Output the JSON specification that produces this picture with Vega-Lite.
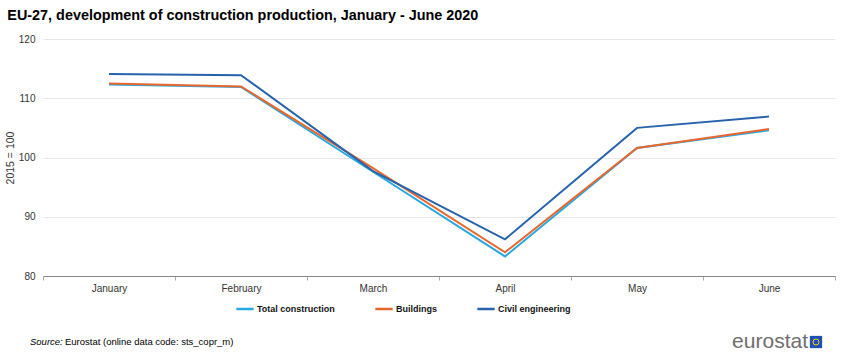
{
  "$schema": "https://vega.github.io/schema/vega-lite/v6.json",
  "background": "white",
  "padding": {"left": 5, "top": 7, "right": 5, "bottom": 5},
  "title": {"text": "EU-27, development of construction production, January - June 2020", "anchor": "start", "fontSize": 14.4, "fontWeight": "bold", "font": "Liberation Sans", "color": "#000000", "offset": 11, "dx": 2},
  "config": {
    "font": "Liberation Sans",
    "view": {"stroke": null},
    "concat": {"spacing": 17}
  },
  "resolve": {"scale": {"x": "independent", "color": "independent"}, "legend": {"color": "independent"}},
  "vconcat": [
    {
      "width": 792,
      "height": 237,
      "data": {"values": [
        {"month": "January", "series": "Total construction", "value": 112.3},
        {"month": "February", "series": "Total construction", "value": 111.9},
        {"month": "March", "series": "Total construction", "value": 97.6},
        {"month": "April", "series": "Total construction", "value": 83.3},
        {"month": "May", "series": "Total construction", "value": 101.6},
        {"month": "June", "series": "Total construction", "value": 104.6},
        {"month": "January", "series": "Buildings", "value": 112.5},
        {"month": "February", "series": "Buildings", "value": 112.0},
        {"month": "March", "series": "Buildings", "value": 98.2},
        {"month": "April", "series": "Buildings", "value": 84.0},
        {"month": "May", "series": "Buildings", "value": 101.6},
        {"month": "June", "series": "Buildings", "value": 104.8},
        {"month": "January", "series": "Civil engineering", "value": 114.1},
        {"month": "February", "series": "Civil engineering", "value": 113.9},
        {"month": "March", "series": "Civil engineering", "value": 97.7},
        {"month": "April", "series": "Civil engineering", "value": 86.2},
        {"month": "May", "series": "Civil engineering", "value": 105.0},
        {"month": "June", "series": "Civil engineering", "value": 106.9}
      ]},
      "mark": {"type": "line", "strokeWidth": 2},
      "encoding": {
        "x": {"field": "month", "type": "ordinal", "sort": ["January", "February", "March", "April", "May", "June"],
          "axis": {"title": null, "labelAngle": 0, "labelFontSize": 10, "labelColor": "#333333", "domainColor": "#888888", "tickColor": "#aaaaaa", "tickBand": "extent", "tickSize": 4, "labelPadding": 3, "grid": false}},
        "y": {"field": "value", "type": "quantitative", "scale": {"domain": [80, 120], "nice": false, "zero": false},
          "axis": {"title": "2015 = 100", "titleFontSize": 10.5, "titleFontWeight": "normal", "titleColor": "#333333", "titlePadding": 3, "values": [80, 90, 100, 110, 120], "labelFontSize": 10, "labelColor": "#333333", "ticks": false, "domain": false, "labelPadding": 8, "gridColor": "#e6e6e6"}},
        "color": {"field": "series", "type": "nominal", "sort": ["Total construction", "Buildings", "Civil engineering"],
          "scale": {"domain": ["Total construction", "Buildings", "Civil engineering"], "range": ["#28a8e0", "#e8672f", "#2763ac"]},
          "legend": {"title": null, "orient": "none", "legendX": 192, "legendY": 260, "direction": "horizontal", "symbolType": "stroke", "symbolStrokeWidth": 2.5, "symbolSize": 300, "labelFontSize": 9, "labelFontWeight": "bold", "labelColor": "#111111", "columnPadding": 35, "labelOffset": 2}}
      }
    },
    {
      "width": 780,
      "height": 20,
      "resolve": {"scale": {"x": "shared"}},
      "layer": [
        {
          "data": {"values": [{"slot": "left", "text": "Source:"}]},
          "mark": {"type": "text", "align": "left", "baseline": "middle", "fontSize": 9.5, "fontStyle": "italic", "color": "#000000", "xOffset": -13},
          "encoding": {"x": {"field": "slot", "type": "nominal", "scale": {"type": "point", "domain": ["left", "right"], "padding": 0}, "axis": null}, "text": {"field": "text"}}
        },
        {
          "data": {"values": [{"slot": "left", "text": "Eurostat (online data code: sts_copr_m)"}]},
          "mark": {"type": "text", "align": "left", "baseline": "middle", "fontSize": 9.5, "color": "#000000", "xOffset": 22},
          "encoding": {"x": {"field": "slot", "type": "nominal", "axis": null}, "text": {"field": "text"}}
        },
        {
          "data": {"values": [{"slot": "right", "text": "eurostat"}]},
          "mark": {"type": "text", "align": "right", "baseline": "middle", "fontSize": 21, "color": "#6e6e6e", "xOffset": -15},
          "encoding": {"x": {"field": "slot", "type": "nominal", "axis": null}, "text": {"field": "text"}}
        },
        {
          "data": {"values": [{"slot": "right", "text": "flag"}]},
          "mark": {"type": "square", "size": 150, "filled": true, "color": "#1f4fb0", "opacity": 1, "xOffset": -7},
          "encoding": {"x": {"field": "slot", "type": "nominal", "axis": null}}
        },
        {
          "data": {"values": [{"slot": "right", "text": "stars"}]},
          "mark": {"type": "point", "shape": "circle", "size": 36, "filled": false, "color": "#f2d21b", "strokeWidth": 1, "opacity": 1, "xOffset": -7},
          "encoding": {"x": {"field": "slot", "type": "nominal", "axis": null}}
        }
      ]
    }
  ]
}
